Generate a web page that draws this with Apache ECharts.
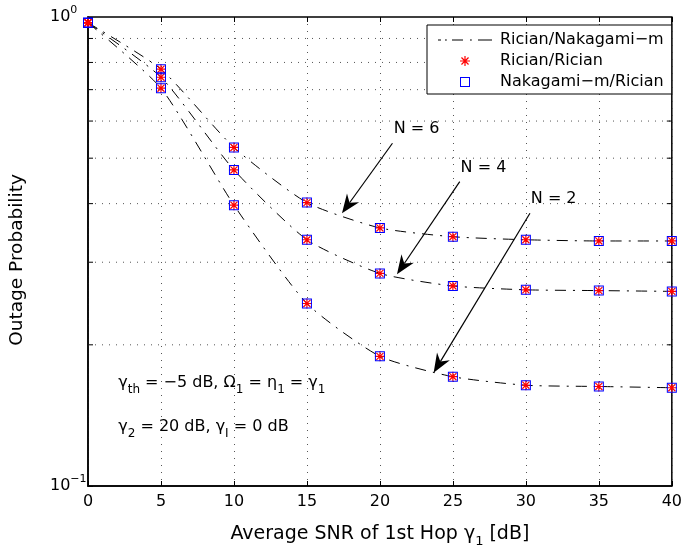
<!DOCTYPE html>
<html>
<head>
<meta charset="utf-8">
<script src="https://cdn.jsdelivr.net/npm/echarts@6/dist/echarts.min.js"></script>
<style>
  html, body { margin: 0; padding: 0; background: #fff; }
  #chart { width: 685px; height: 554px; }
</style>
</head>
<body>
<div id="chart"></div>
<script>
// Average SNR of the first hop (dB)
const snrDb = [0, 5, 10, 15, 20, 25, 30, 35, 40];
// Outage probability for N = 6, 4, 2
const outageN6 = [0.972, 0.774, 0.527, 0.402, 0.355, 0.340, 0.335, 0.333, 0.333];
const outageN4 = [0.972, 0.744, 0.472, 0.335, 0.284, 0.267, 0.262, 0.261, 0.260];
const outageN2 = [0.972, 0.705, 0.397, 0.245, 0.189, 0.171, 0.164, 0.163, 0.162];
// Decade sub-divisions on the log axis (dotted grid + minor ticks)
const minorGridValues = [0.2, 0.3, 0.4, 0.5, 0.6, 0.7, 0.8, 0.9];
const legendNames = ['Rician/Nakagami−m', 'Rician/Rician', 'Nakagami−m/Rician'];
const curveLabels = ['N = 6', 'N = 4', 'N = 2'];

// Annotation anchors in data coordinates [snr, outage]
const labelAnchors = [[20.95, 0.577], [25.53, 0.4765], [30.34, 0.409]];
const arrowTails = [[20.86, 0.538], [25.47, 0.4455], [30.28, 0.3815]];
const arrowTips = [[17.40, 0.3815], [21.17, 0.2828], [23.68, 0.1744]];
const paramAnchors = [[2.07, 0.1658], [2.07, 0.1336]];

const FONT = 'DejaVu Sans';
const X_MIN = 0, X_MAX = 40;

const ASTERISK = 'path://M44,0H56V100H44Z M0,44H100V56H0Z M10.4,18.8L18.8,10.4L89.6,81.2L81.2,89.6Z M81.2,10.4L89.6,18.8L18.8,89.6L10.4,81.2Z';
const SQUARE = 'path://M0,0H100V100H0Z M10,10V90H90V10Z';
const DASHDOT = 'path://M0,0H3V1.2H0Z M7,0H8.8V1.2H7Z M14,0H25V1.2H14Z M32,0H33.8V1.2H32Z M40,0H54V1.2H40Z';

const curves = [outageN6, outageN4, outageN2];
const pairs = vals => snrDb.map((x, i) => [x, vals[i]]);

const series = [];
// dotted decade grid with minor ticks on both sides
series.push({
  type: 'custom',
  name: 'logGrid',
  silent: true,
  z: 1,
  data: minorGridValues.map(v => [X_MIN, v]),
  renderItem: (params, api) => {
    const v = api.value(1);
    const a = api.coord([X_MIN, v]);
    const b = api.coord([X_MAX, v]);
    return {
      type: 'group',
      children: [
        { type: 'line', shape: { x1: a[0], y1: a[1], x2: b[0], y2: b[1] },
          style: { stroke: '#555', lineWidth: 1, lineDash: [1, 6] } },
        { type: 'line', shape: { x1: a[0], y1: a[1], x2: a[0] + 5, y2: a[1] },
          style: { stroke: '#000', lineWidth: 1 } },
        { type: 'line', shape: { x1: b[0] - 5, y1: b[1], x2: b[0], y2: b[1] },
          style: { stroke: '#000', lineWidth: 1 } }
      ]
    };
  }
});
curves.forEach(vals => series.push({
  name: legendNames[0], type: 'line', data: pairs(vals),
  symbol: 'none', smooth: 0.2, silent: true, z: 2,
  lineStyle: { color: '#000', width: 1, type: [11, 7, 2, 7] },
  itemStyle: { color: '#000', borderWidth: 0 }
}));
curves.forEach(vals => series.push({
  name: legendNames[1], type: 'scatter', data: pairs(vals),
  symbol: ASTERISK, symbolSize: 10, clip: false, z: 3,
  itemStyle: { color: '#ff0000', opacity: 1 }
}));
curves.forEach(vals => series.push({
  name: legendNames[2], type: 'scatter', data: pairs(vals),
  symbol: SQUARE, symbolSize: 10, clip: false, z: 4,
  itemStyle: { color: '#0000ff', opacity: 1 }
}));

const option = {
  animation: false,
  backgroundColor: '#fff',
  grid: { left: 85, top: 17, right: 10, bottom: 68, show: true, borderColor: '#000', borderWidth: 1.5, backgroundColor: '#fff' },
  legend: {
    orient: 'vertical', left: 427, top: 25,
    data: [
      { name: legendNames[0], icon: DASHDOT, itemStyle: { borderWidth: 0 } },
      { name: legendNames[1], icon: ASTERISK, itemStyle: { borderWidth: 0 } },
      { name: legendNames[2], icon: SQUARE, itemStyle: { borderWidth: 0 } }
    ],
    itemWidth: 54, itemHeight: 10, itemGap: 5,
    padding: [7, 8, 4, 11],
    backgroundColor: '#fff', borderColor: '#000', borderWidth: 1, borderRadius: 0,
    textStyle: { fontFamily: FONT, fontSize: 16, color: '#000', padding: [0, 0, 0, 3] },
    selectedMode: false
  },
  xAxis: [{
    type: 'value', min: X_MIN, max: X_MAX, interval: 5, position: 'bottom',
    axisLine: { show: true, lineStyle: { color: '#000', width: 1.5 } },
    axisTick: { show: true, inside: true, length: 5, lineStyle: { color: '#000' } },
    axisLabel: { color: '#000', fontFamily: FONT, fontSize: 16, margin: 8 },
    splitLine: { show: true, lineStyle: { color: '#555', width: 1, type: [1, 6] } },
    name: 'Average SNR of 1st Hop γ{sub|1} [dB]',
    nameLocation: 'middle', nameGap: 35,
    nameTextStyle: {
      color: '#000', fontFamily: FONT, fontSize: 19,
      rich: { sub: { color: '#000', fontFamily: FONT, fontSize: 13, padding: [14, 0, 0, 0] } }
    }
  }, {
    type: 'value', min: X_MIN, max: X_MAX, interval: 5, position: 'top',
    axisLine: { show: false },
    axisTick: { show: true, inside: true, length: 5, lineStyle: { color: '#000' } },
    axisLabel: { show: false },
    splitLine: { show: false }
  }],
  yAxis: {
    type: 'log', logBase: 10, min: 0.1, max: 1, position: 'left',
    axisLine: { show: true, lineStyle: { color: '#000', width: 1.5 } },
    axisTick: { show: true, inside: true, length: 5, lineStyle: { color: '#000' } },
    axisLabel: {
      color: '#000', fontFamily: FONT, fontSize: 16, align: 'left', margin: 38,
      formatter: v => '10{sup|' + String(Math.round(Math.log10(v))).replace('-', '−') + '}',
      rich: { sup: { color: '#000', fontFamily: FONT, fontSize: 11, padding: [0, 0, 14, 0] } }
    },
    splitLine: { show: false },
    name: 'Outage Probability', nameLocation: 'middle', nameGap: 61,
    nameTextStyle: { color: '#000', fontFamily: FONT, fontSize: 18.5, padding: [0, 17, 0, 0] }
  },
  series: series
};

const chart = echarts.init(document.getElementById('chart'));
chart.setOption(option);

const px = p => chart.convertToPixel({ gridIndex: 0 }, p);

function arrowElements(tail, tip) {
  const [x1, y1] = px(tail);
  const [x2, y2] = px(tip);
  const dx = x2 - x1, dy = y2 - y1, len = Math.hypot(dx, dy);
  const ux = dx / len, uy = dy / len, nx = -uy, ny = ux;
  const headLen = 19, headHalf = 7.5, notch = 6;
  const bx = x2 - ux * headLen, by = y2 - uy * headLen;
  const cx = x2 - ux * (headLen - notch), cy = y2 - uy * (headLen - notch);
  return [
    { type: 'line', silent: true, z: 10, shape: { x1: x1, y1: y1, x2: cx, y2: cy }, style: { stroke: '#000', lineWidth: 1.2 } },
    { type: 'polygon', silent: true, z: 10,
      shape: { points: [[x2, y2], [bx + nx * headHalf, by + ny * headHalf], [cx, cy], [bx - nx * headHalf, by - ny * headHalf]] },
      style: { fill: '#000' } }
  ];
}

const subStyle = { fontFamily: FONT, fontSize: 12, fill: '#000', color: '#000', padding: [14, 0, 0, 0] };
function textElement(anchor, text, withSub) {
  const [x, y] = px(anchor);
  const style = {
    text: text, fill: '#000', fontFamily: FONT, fontSize: 16,
    align: 'left', verticalAlign: 'middle', textAlign: 'left', textVerticalAlign: 'middle'
  };
  if (withSub) style.rich = { sub: subStyle };
  return { type: 'text', silent: true, z: 10, x: x, y: y, style: style };
}

const elements = [];
curveLabels.forEach((t, i) => {
  elements.push(textElement(labelAnchors[i], t, false));
  arrowElements(arrowTails[i], arrowTips[i]).forEach(e => elements.push(e));
});
elements.push(textElement(paramAnchors[0], 'γ{sub|th} = −5 dB, Ω{sub|1} = η{sub|1} = γ{sub|1}', true));
elements.push(textElement(paramAnchors[1], 'γ{sub|2} = 20 dB, γ{sub|I} = 0 dB', true));

chart.setOption({ graphic: { elements: elements } });
</script>
</body>
</html>
